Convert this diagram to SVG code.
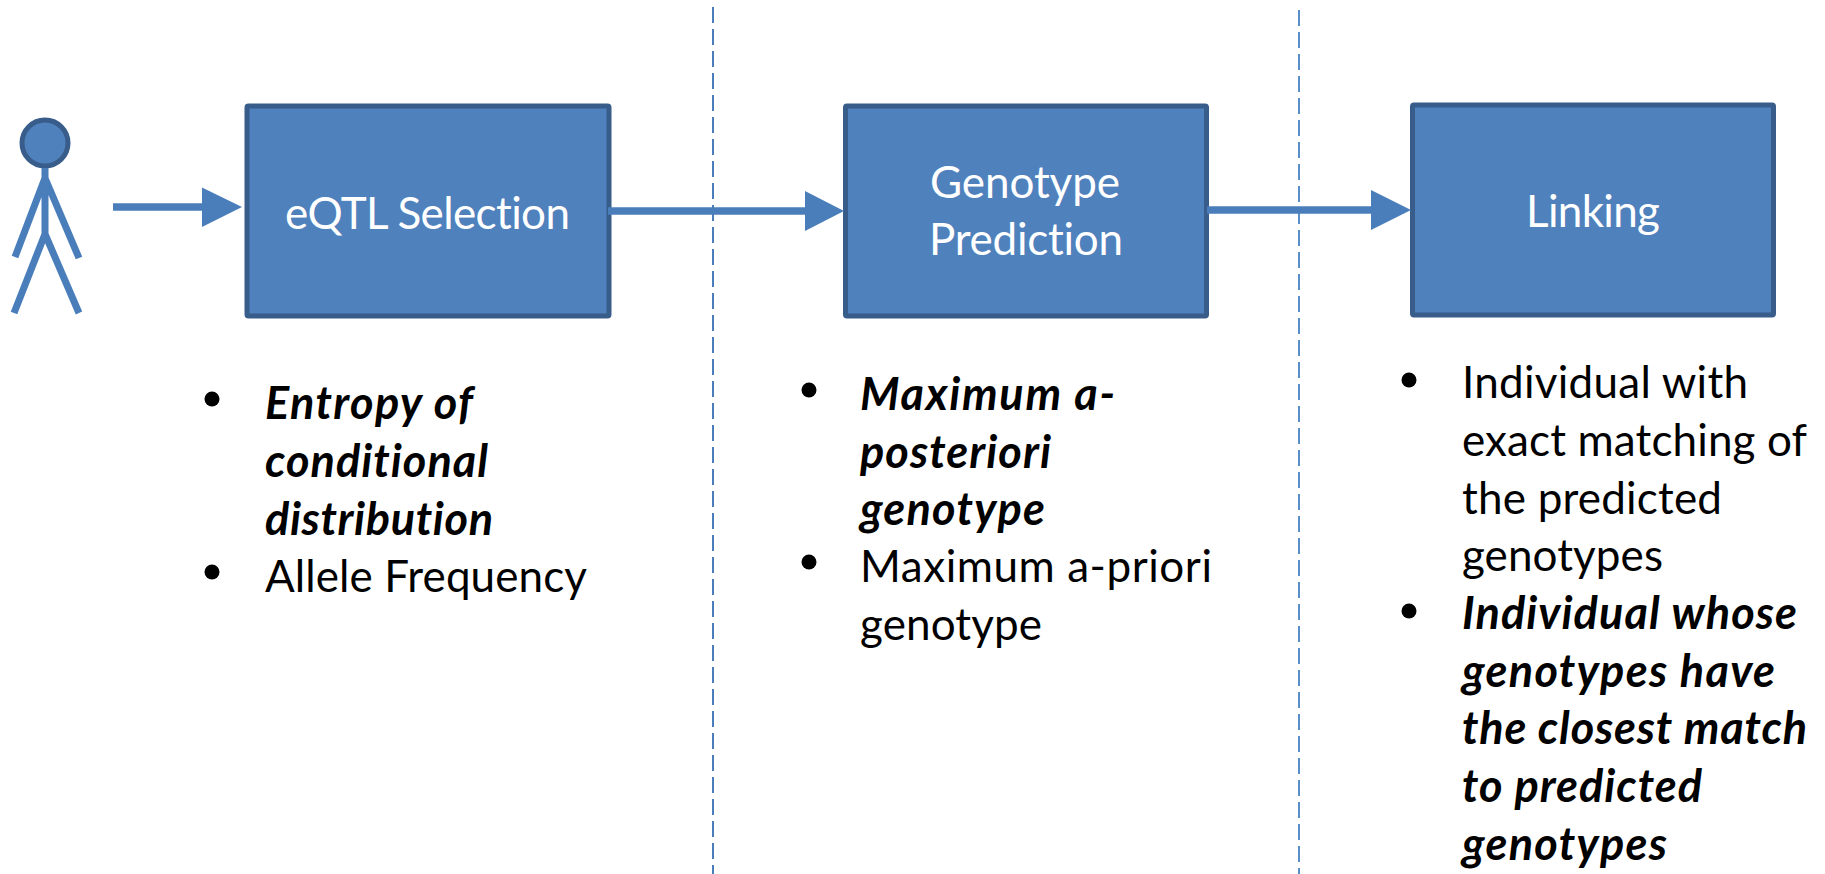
<svg xmlns="http://www.w3.org/2000/svg" width="1825" height="874" viewBox="0 0 1825 874">
<style>
text{font-family:Lato,"Open Sans","Liberation Sans",sans-serif;font-size:44px;fill:#000;font-variant-ligatures:none}
.b{fill:#4f81bd;stroke:#385d8a;stroke-width:5;stroke-linejoin:round}
.t{fill:#fff;font-size:44px}
.em{font-weight:700;font-style:italic;font-size:45px}
.c{stroke:#4a7ebb;stroke-width:7.5;fill:none}
.d{stroke:#4a7ebb;stroke-width:2;stroke-dasharray:16 6;fill:none}
.h{fill:#4a7ebb}
.s{stroke:#4a7ebb;stroke-width:7;fill:none}
</style>
<rect width="1825" height="874" fill="#fff"/>
<g id="person">
<circle cx="45" cy="143" r="23" fill="#4f81bd" stroke="#385d8a" stroke-width="5"/>
<path class="s" d="M45 168V234M45 178L15 257M45 178L79 258M45 234L14 313M45 234L79 313"/>
</g>
<g id="node-eqtl"><rect class="b" x="247" y="106" width="362" height="210" rx="1.500"/><text class="t" x="285" y="229" textLength="285">eQTL Selection</text></g>
<g id="node-genotype"><rect class="b" x="845.500" y="106" width="361" height="210" rx="1.500"/><text class="t" x="930" y="198" textLength="190">Genotype</text><text class="t" x="929" y="255" textLength="194">Prediction</text></g>
<g id="node-linking"><rect class="b" x="1412.500" y="105" width="361" height="210" rx="1.500"/><text class="t" x="1526" y="227" textLength="134">Linking</text></g>
<g id="connectors">
<line class="d" x1="713" y1="7" x2="713" y2="874"/>
<line class="d" x1="1299" y1="10" x2="1299" y2="874" style="stroke:#5b8fca"/>
<line class="c" x1="113" y1="207" x2="204" y2="207"/><polygon class="h" points="202,187.500 242,207 202,227"/>
<line class="c" x1="608" y1="211" x2="806" y2="211"/><polygon class="h" points="805,191 844,211 805,231"/>
<line class="c" x1="1207" y1="210" x2="1372" y2="210"/><polygon class="h" points="1371,190 1411,210 1371,230"/>
</g>
<g id="list-eqtl">
<circle cx="212" cy="399" r="7.500"/><circle cx="212" cy="572" r="7.500"/>
<text class="em" x="265" y="419" textLength="208">Entropy of</text>
<text class="em" x="265" y="477" textLength="223">conditional</text>
<text class="em" x="265" y="535" textLength="228">distribution</text>
<text x="265" y="592" textLength="322">Allele Frequency</text>
</g>
<g id="list-genotype">
<circle cx="809" cy="390" r="7.500"/><circle cx="809" cy="562" r="7.500"/>
<text class="em" x="860" y="410" textLength="255">Maximum a-</text>
<text class="em" x="860" y="468" textLength="191">posteriori</text>
<text class="em" x="860" y="525" textLength="185">genotype</text>
<text x="860" y="582" textLength="352">Maximum a-priori</text>
<text x="860" y="640" textLength="182">genotype</text>
</g>
<g id="list-linking">
<circle cx="1409" cy="380" r="7.500"/><circle cx="1409" cy="611" r="7.500"/>
<text x="1462" y="398" textLength="286">Individual with</text>
<text x="1462" y="456" textLength="345">exact matching of</text>
<text x="1462" y="514" textLength="260">the predicted</text>
<text x="1462" y="571" textLength="201">genotypes</text>
<text class="em" x="1462" y="629" textLength="335">Individual whose</text>
<text class="em" x="1462" y="687" textLength="313">genotypes have</text>
<text class="em" x="1462" y="744" textLength="345">the closest match</text>
<text class="em" x="1462" y="802" textLength="240">to predicted</text>
<text class="em" x="1462" y="860" textLength="205">genotypes</text>
</g>
</svg>
